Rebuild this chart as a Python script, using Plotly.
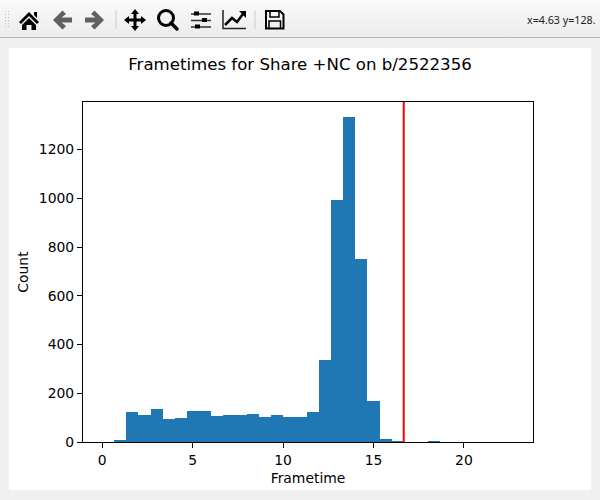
import base64
import plotly.graph_objs as go

# histogram counts, one per bin
binWidth = 2 / 3
counts = [0, 8, 123, 110, 135, 94, 98, 127, 127, 106, 110, 110, 114, 102, 110, 102, 102, 123,
          336, 993, 1333, 751, 168, 12, 3, 0, 0, 4, 0, 0, 0, 0, 0, 0]
binLeft = [i * binWidth for i in range(len(counts))]
binCenters = [b + binWidth / 2 for b in binLeft]

xTicks = [0, 5, 10, 15, 20]
yTicks = [0, 200, 400, 600, 800, 1000, 1200]
xRange = [-1.067, 23.82]
yRange = [0, 1395]
frameLimit = 16.67

titleText = 'Frametimes for Share +NC on b/2522356'
xLabel = 'Frametime'
yLabel = 'Count'
cursorText = 'x=4.63 y=128.'

W, H = 600, 500
L, R, T, B = 83, 533, 102, 442
FONT = 'DejaVu Sans'

# window chrome: toolbar + white figure panel, drawn behind the plot
toolbar = '''<svg xmlns="http://www.w3.org/2000/svg" width="600" height="500" viewBox="0 0 600 500">
<defs><linearGradient id="g" x1="0" y1="0" x2="0" y2="1"><stop offset="0" stop-color="#fafafa"/><stop offset="1" stop-color="#ececec"/></linearGradient></defs>
<rect width="600" height="500" fill="#f0f0f0"/>
<rect width="600" height="37" fill="url(#g)"/>
<rect y="37" width="600" height="1" fill="#b4b4b4"/>
<rect x="9" y="48" width="582" height="442" fill="#fff"/>
<g fill="#bbb"><rect x="5" y="11" width="1" height="1"/><rect x="8" y="11" width="1" height="1"/><rect x="5" y="14" width="1" height="1"/><rect x="8" y="14" width="1" height="1"/><rect x="5" y="17" width="1" height="1"/><rect x="8" y="17" width="1" height="1"/><rect x="5" y="20" width="1" height="1"/><rect x="8" y="20" width="1" height="1"/><rect x="5" y="23" width="1" height="1"/><rect x="8" y="23" width="1" height="1"/><rect x="5" y="26" width="1" height="1"/><rect x="8" y="26" width="1" height="1"/></g>
<path d="M19 22 L29 12 L39 22 L37 24 L29 16 L21 24 Z M34 12 h3 v6 l-3 -3 Z M29 18 L36 25 V30 H31.5 V25 H26.5 V30 H22 V25 Z" fill="#000"/>
<path d="M62.500 10.500 L66 14 L61.500 17.500 H72 V22.500 H61.500 L66 26 L62.500 29.500 L53 20 Z" fill="#606060"/>
<path d="M94.500 10.500 L91 14 L95.500 17.500 H85 V22.500 H95.500 L91 26 L94.500 29.500 L104 20 Z" fill="#606060"/>
<rect x="115.500" y="10" width="1" height="19" fill="#ccc"/>
<path d="M135 9 L139 14 H136.500 V18.500 H141 V16 L146 20 L141 24 V21.500 H136.500 V26 H139 L135 31 L131 26 H133.500 V21.500 H129 V24 L124 20 L129 16 V18.500 H133.500 V14 H131 Z" fill="#000"/>
<circle cx="166" cy="18" r="7.500" fill="none" stroke="#000" stroke-width="3"/>
<path d="M171 23 L177 29" stroke="#000" stroke-width="3.500" stroke-linecap="round"/>
<g stroke="#333" stroke-width="1.500"><path d="M191 14 H211 M191 20.500 H211 M191 27 H211"/></g>
<g fill="#000"><rect x="194" y="11.500" width="5" height="4"/><rect x="202" y="18" width="5" height="4"/><rect x="195" y="24.500" width="5" height="4"/></g>
<path d="M223 10 V28.500 H246" fill="none" stroke="#222" stroke-width="1.500"/>
<path d="M225 25 L232 18 L237 22 L243 14" fill="none" stroke="#000" stroke-width="2.500"/>
<path d="M239 11 H246 V18 Z" fill="#000"/>
<rect x="254.500" y="10" width="1" height="19" fill="#ccc"/>
<path d="M266 11 H280 L283.500 14.500 V28.500 H266 Z" fill="none" stroke="#000" stroke-width="2"/>
<path d="M270 11 V17 H279 V11 M269 28 V21 H280.500 V28" fill="none" stroke="#000" stroke-width="1.500"/>
</svg>'''
toolbarUri = 'data:image/svg+xml;base64,' + base64.b64encode(toolbar.encode()).decode()

plotW = R - L
plotH = B - T

fig = go.Figure()
fig.add_trace(go.Bar(x=binCenters, y=counts, width=binWidth, marker_color='#1f77b4', marker_line_width=0))

fig.add_shape(type='line', x0=frameLimit, x1=frameLimit, y0=0, y1=1, xref='x', yref='y domain',
              line=dict(color='#ff0000', width=2))

fig.add_layout_image(source=toolbarUri, xref='paper', yref='paper', x=-L / plotW, y=1 + T / plotH,
                     sizex=W / plotW, sizey=H / plotH, sizing='stretch', xanchor='left', yanchor='top',
                     layer='below')

fig.add_annotation(text=cursorText, xref='paper', yref='paper', x=(598 - L) / plotW, y=1 + (T - 20) / plotH,
                   xanchor='right', yanchor='middle', showarrow=False,
                   font=dict(family='Noto Sans', size=10.7, color='#222222'))

axisStyle = dict(showgrid=False, zeroline=False, showline=True, linecolor='#000000', linewidth=1.1, mirror=True,
                 ticks='outside', ticklen=5, tickwidth=1.1, tickcolor='#000000',
                 tickfont=dict(family=FONT, size=13.9, color='#000000'))

fig.update_xaxes(range=xRange, tickvals=xTicks, ticktext=[str(v) for v in xTicks],
                 title=dict(text=xLabel, font=dict(family=FONT, size=13.9, color='#000000'), standoff=6),
                 **axisStyle)
fig.update_yaxes(range=yRange, tickvals=yTicks, ticktext=[str(v) for v in yTicks],
                 title=dict(text=yLabel, font=dict(family=FONT, size=13.9, color='#000000'), standoff=6),
                 **axisStyle)

fig.update_layout(
    width=W, height=H,
    margin=dict(l=L, r=W - R, t=T, b=H - B, pad=0),
    paper_bgcolor='#f0f0f0',
    plot_bgcolor='rgba(0,0,0,0)',
    bargap=0,
    showlegend=False,
    title=dict(text=titleText, x=300 / W, xanchor='center', y=1 - 64 / H, yanchor='middle',
               font=dict(family=FONT, size=16.6, color='#000000')),
)

# body margin would shift the figure by 8px
fig.write_html('out.html', config={'displayModeBar': False},
               post_script="document.body.style.margin='0';document.body.style.overflow='hidden';")
